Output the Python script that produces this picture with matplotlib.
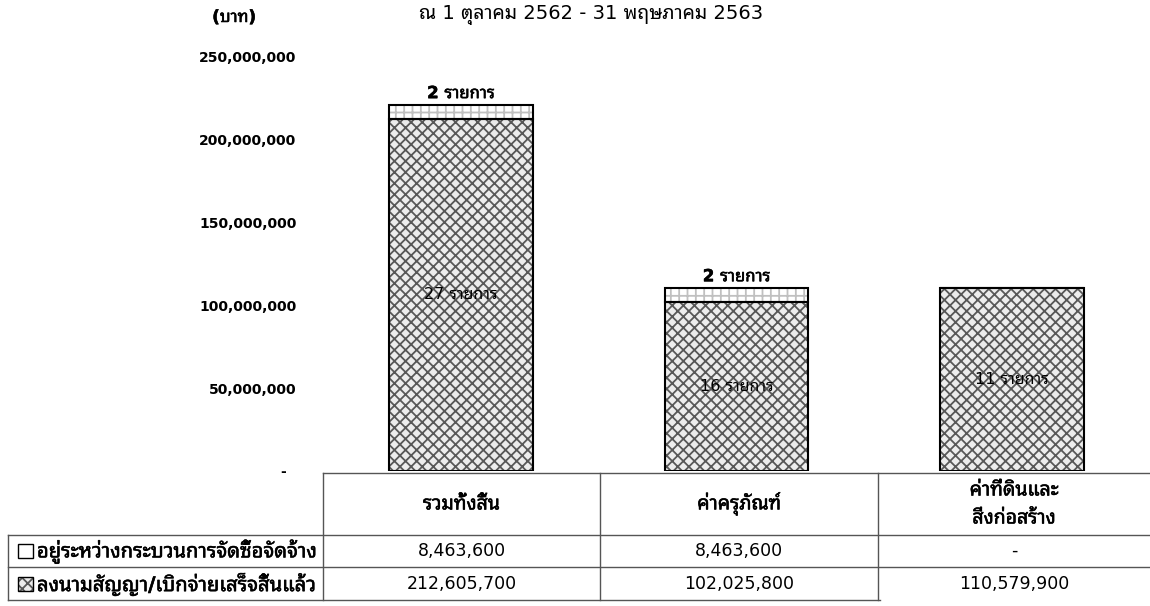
import matplotlib
matplotlib.use("Agg")
import matplotlib.pyplot as plt
from matplotlib import font_manager, ft2font
from matplotlib import patheffects as pe
from matplotlib.patches import Rectangle

# ---------------- data ----------------
title = 'ณ 1 ตุลาคม 2562 - 31 พฤษภาคม 2563'
unit_label = '(บาท)'
categories = ['รวมทั้งสิ้น', 'ค่าครุภัณฑ์', 'ค่าที่ดินและ\nสิ่งก่อสร้าง']
series_labels = ['อยู่ระหว่างกระบวนการจัดซื้อจัดจ้าง', 'ลงนามสัญญา/เบิกจ่ายเสร็จสิ้นแล้ว']
completed = [212605700, 102025800, 110579900]
in_process = [8463600, 8463600, 0]
completed_items = [27, 16, 11]
in_process_items = [2, 2, 0]
item_word = 'รายการ'
yticks = [0, 50000000, 100000000, 150000000, 200000000, 250000000]
ytick_labels = ['-  ', '50,000,000', '100,000,000', '150,000,000', '200,000,000', '250,000,000']

# ---------------- fonts ----------------
thai_fams = []
for f in font_manager.fontManager.ttflist:
    try:
        cm = ft2font.FT2Font(f.fname).get_charmap()
    except Exception:
        continue
    if 0x0E23 in cm and f.name not in thai_fams:
        thai_fams.append(f.name)
pref = ['Noto Sans Thai Looped', 'IBM Plex Sans Thai Looped', 'Noto Sans Thai',
        'Sarabun', 'Loma', 'Tahoma']
thai_fams.sort(key=lambda n: pref.index(n) if n in pref else 99)
fams = ['DejaVu Sans'] + thai_fams[:1]
plt.rcParams['font.family'] = fams
plt.rcParams['hatch.linewidth'] = 1.3

bold_fx = [pe.withStroke(linewidth=0.4, foreground='black')]

W, H = 1150, 606
fig = plt.figure(figsize=(W / 100, H / 100), dpi=100)

# main bar axes
ax = fig.add_axes([323 / W, 1 - 471 / H, (W - 323) / W, (471 - 57) / H])
x = list(range(len(categories)))
bw = 0.52
check_face = '#ececec'
check_hatch = '#585858'

# completed (checker)
ax.bar(x, completed, width=bw, color=check_face, edgecolor=check_hatch,
       hatch='xxx', linewidth=0, zorder=2)
ax.bar(x, completed, width=bw, fill=False, edgecolor='black', linewidth=1.5, zorder=3)
# in process (light grid)
ax.bar(x, in_process, bottom=completed, width=bw, color='white',
       edgecolor='#c0c0c0', hatch='++', linewidth=0, zorder=2)
ax.bar(x, in_process, bottom=completed, width=bw, fill=False,
       edgecolor='black', linewidth=1.5, zorder=3)

for i in x:
    ax.text(i, completed[i] / 2, f'{completed_items[i]} {item_word}', ha='center',
            va='center', fontsize=11.5, zorder=5)
    if in_process_items[i]:
        top = completed[i] + in_process[i]
        ax.annotate(f'{in_process_items[i]} {item_word}', (i, top), xytext=(0, 2),
                    textcoords='offset points', ha='center', va='bottom',
                    fontsize=12, fontweight='bold', path_effects=bold_fx)

ax.set_xlim(-0.5, len(categories) - 0.5)
ax.set_ylim(0, 250000000)
ax.set_yticks(yticks)
ax.set_yticklabels(ytick_labels, fontsize=10, fontweight='bold')
ax.tick_params(axis='y', length=0, pad=19)
ax.set_xticks([])
for s in ax.spines.values():
    s.set_visible(False)
ax.patch.set_alpha(0)

# overlay axes for titles and data table (pixel layout)
ov = fig.add_axes([0, 0, 1, 1], zorder=-1)
ov.set_xlim(0, W)
ov.set_ylim(H, 0)
ov.axis('off')

ov.text(591, 15, title, ha='center', va='center', fontsize=14)
ov.text(234, 17, unit_label, ha='center', va='center', fontsize=12, fontweight='bold',
        path_effects=bold_fx)

col_edges = [323, 600, 878, 1150]
centers = [(col_edges[k] + col_edges[k + 1]) / 2 for k in range(3)]
lc = '#555555'
ov.plot([323, W], [473, 473], color=lc, lw=1)
ov.plot([8, W], [535, 535], color=lc, lw=1)
ov.plot([8, W], [567, 567], color=lc, lw=1)
ov.plot([8, 880], [600, 600], color=lc, lw=1)
ov.plot([8, 8], [535, 600], color=lc, lw=1)
for xe in col_edges[:3]:
    ov.plot([xe, xe], [473, 600], color=lc, lw=1)

for k, cat in enumerate(categories):
    ov.text(centers[k], 504, cat, ha='center', va='center', fontsize=14,
            fontweight='bold', linespacing=1.6, path_effects=bold_fx)

rows = [in_process, completed]
for r, vals in enumerate(rows):
    yc = 551 + r * 33
    for k, v in enumerate(vals):
        s = f'{v:,}' if v else '-'
        ov.text(centers[k], yc, s, ha='center', va='center', fontsize=12.5)
    ov.text(37, yc, series_labels[r], ha='left', va='center', fontsize=14.5,
            fontweight='bold', path_effects=bold_fx)

ov.add_patch(Rectangle((18, 544), 15, 14, facecolor='white', edgecolor='black', lw=1))
ov.add_patch(Rectangle((18, 577), 15, 14, facecolor=check_face, edgecolor=check_hatch,
                       hatch='xxx', lw=0))
ov.add_patch(Rectangle((18, 577), 15, 14, fill=False, edgecolor='black', lw=1))

fig.savefig('out.png', dpi=100)
